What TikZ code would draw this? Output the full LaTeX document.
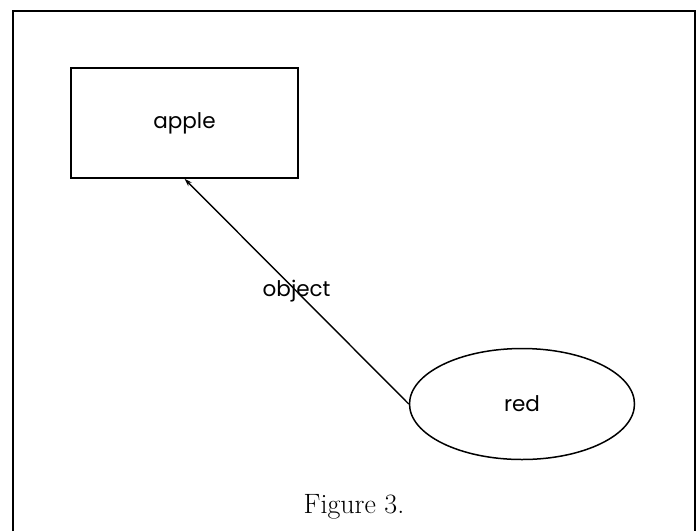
\documentclass[tikz,border=0pt]{standalone}
\usepackage{fontspec}
\usepackage{tikz}
\usetikzlibrary{arrows.meta,positioning,shapes.geometric}
\newfontfamily\diagfont{Poppins}

\begin{document}
\begin{tikzpicture}[
  x=1pt, y=-1pt,
  concept/.style={rectangle, draw=black, line width=1.5pt, minimum width=227pt, minimum height=110pt, font=\diagfont\fontsize{21.5}{25}\selectfont},
  relation/.style={ellipse, draw=black, line width=1.5pt, minimum width=225pt, minimum height=111pt, font=\diagfont\fontsize{21.5}{25}\selectfont},
  arr/.style={-{Stealth[length=8pt, width=5pt]}, line width=1.4pt},
]
\useasboundingbox (0,0) rectangle (698,531);

% Frame
\draw[line width=1.6pt] (13,531) -- (13,11) -- (695,11) -- (695,531);

% Nodes
\node[concept] (apple) at (184.5,123) {apple};
\node[relation] (red) at (522,404) {red};

% Link
\draw[arr] (red.west) -- node[font=\diagfont\fontsize{21.5}{25}\selectfont] (objlabel) {object} (apple.south);

% Caption
\node[font=\fontsize{28}{32}\selectfont] (caption) at (354,507) {Figure 3.};

\end{tikzpicture}
\end{document}
